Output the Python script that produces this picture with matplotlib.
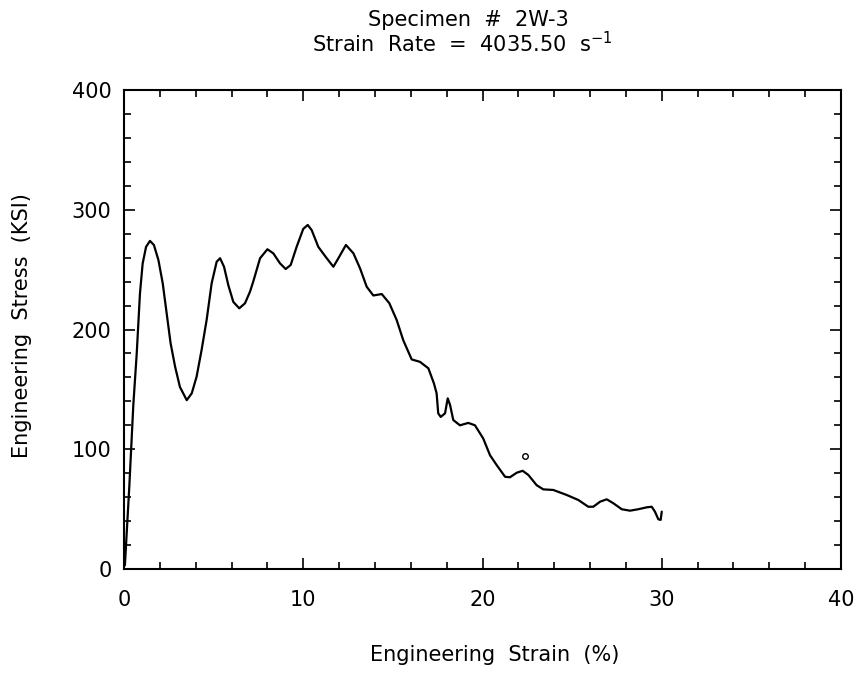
import matplotlib
matplotlib.use("Agg")
import matplotlib.pyplot as plt
from matplotlib.ticker import MultipleLocator

strain = [0.05, 0.3, 0.52, 0.71, 0.89, 1.04, 1.23, 1.45, 1.67, 1.92, 2.16, 2.38, 2.6, 2.85,
          3.12, 3.5, 3.78, 4.05, 4.33, 4.61, 4.89, 5.17, 5.36, 5.58, 5.82, 6.1, 6.43, 6.75,
          7.03, 7.21, 7.59, 8.0, 8.33, 8.7, 9.02, 9.3, 9.63, 10.0, 10.25, 10.47, 10.84,
          11.31, 11.68, 11.96, 12.38, 12.8, 13.17, 13.54, 13.91, 14.38, 14.8, 15.21, 15.58,
          16.05, 16.51, 16.98, 17.29, 17.44, 17.53, 17.67, 17.91, 18.06, 18.19, 18.37,
          18.74, 19.21, 19.58, 20.04, 20.42, 20.79, 21.26, 21.53, 21.91, 22.24, 22.56,
          23.02, 23.39, 23.95, 24.7, 25.35, 25.9, 26.18, 26.56, 26.93, 27.3, 27.77, 28.23,
          28.69, 29.16, 29.44, 29.62, 29.81, 29.94, 30.0]
stress = [3, 70, 137, 180, 230, 255, 269, 274, 270.5, 258, 238.6, 213.5, 188.5, 169,
          152, 141, 146.7, 160.6, 183, 208, 238.6, 256.6, 259.5, 252.4, 237, 223, 217.7, 221.9,
          231.6, 240, 259.5, 267, 263.6, 255.3, 250.5, 253.9, 269, 284, 287.3, 283, 269,
          259.5, 252.4, 259.5, 270.6, 263.6, 251, 235.7, 228.4, 229.6, 222, 208, 191,
          175, 173, 167.6, 155, 146.7, 130, 127, 130, 142.5, 137, 124.4,
          120, 122, 120, 109, 95, 86.8, 77, 76.6, 80.4, 82, 78.5,
          70, 66.5, 66, 61.8, 57.6, 52, 52, 56.2, 58.2, 54.9, 49.9, 48.7,
          49.9, 51.5, 52, 47.9, 41.5, 41, 47.9]

stray_x = [22.37]
stray_y = [94.4]

title_lines = ["Specimen  #  2W-3", r"Strain  Rate  =  4035.50  s$^{-1}$"]
xlabel = "Engineering  Strain  (%)"
ylabel = "Engineering  Stress  (KSI)"

plt.rcParams['font.family'] = ['DejaVu Sans']
fig = plt.figure(figsize=(8.6, 6.75), dpi=100)
ax = fig.add_axes([124/860, 1-569/675, (841-124)/860, (569-90)/675])

ax.plot(strain, stress, color='black', lw=1.6, solid_joinstyle='round', solid_capstyle='round')
ax.plot(stray_x, stray_y, 'o', mfc='none', mec='black', ms=4, mew=1)

ax.set_xlim(0, 40)
ax.set_ylim(0, 400)
ax.xaxis.set_major_locator(MultipleLocator(10))
ax.xaxis.set_minor_locator(MultipleLocator(2))
ax.yaxis.set_major_locator(MultipleLocator(100))
ax.yaxis.set_minor_locator(MultipleLocator(20))
ax.tick_params(which='both', direction='in', top=True, right=True, width=1.2, colors='black')
ax.tick_params(which='major', length=8, labelsize=15)
ax.tick_params(which='minor', length=5)
ax.tick_params(axis='x', which='major', pad=15)
ax.tick_params(axis='y', which='major', pad=9)
for s in ax.spines.values():
    s.set_linewidth(1.5)

fig.text(495/860, 1-655/675, xlabel, ha='center', va='center', fontsize=15)
fig.text(22/860, 1-326/675, ylabel, ha='center', va='center', rotation=90, fontsize=15)
fig.text(468/860, 1-20/675, title_lines[0], ha='center', va='center', fontsize=15)
fig.text(462/860, 1-44/675, title_lines[1], ha='center', va='center', fontsize=15)

fig.savefig("out.png", dpi=100, facecolor='white')
